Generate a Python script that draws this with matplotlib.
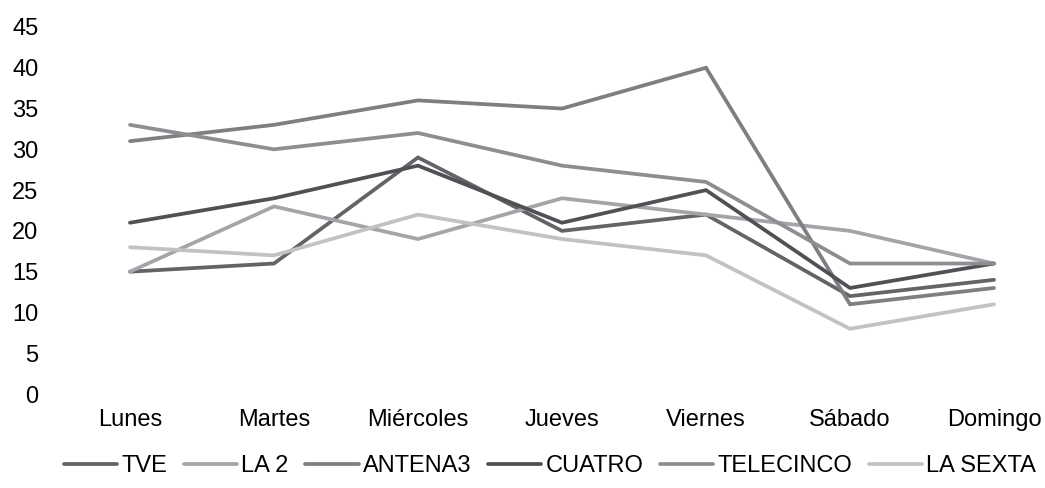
import matplotlib.pyplot as plt

# Datos
dias = ['Lunes', 'Martes', 'Miércoles', 'Jueves', 'Viernes', 'Sábado', 'Domingo']
tve = [15, 16, 29, 20, 22, 12, 14]
la2 = [15, 23, 19, 24, 22, 20, 16]
antena3 = [31, 33, 36, 35, 40, 11, 13]
cuatro = [21, 24, 28, 21, 25, 13, 16]
telecinco = [33, 30, 32, 28, 26, 16, 16]
lasexta = [18, 17, 22, 19, 17, 8, 11]

series = [
    ('TVE', tve, '#636467'),
    ('LA 2', la2, '#a4a5a8'),
    ('ANTENA3', antena3, '#7e7f82'),
    ('CUATRO', cuatro, '#505155'),
    ('TELECINCO', telecinco, '#8d8e91'),
    ('LA SEXTA', lasexta, '#c1c2c4'),
]

plt.rcParams['font.family'] = ['Liberation Sans', 'DejaVu Sans']
plt.rcParams['font.size'] = 17

fig = plt.figure(figsize=(10.45, 4.88), dpi=100)
ax = fig.add_axes([0.0555, 0.1926, 0.9646, 0.7521])

x = range(len(dias))
for nombre, valores, color in series:
    ax.plot(x, valores, color=color, linewidth=2.7, label=nombre,
            solid_joinstyle='miter', solid_capstyle='round')

ax.set_xlim(-0.5, 6.5)
ax.set_ylim(0, 45)
ax.set_yticks(range(0, 46, 5))
ax.set_xticks(list(x))
ax.set_xticklabels(dias)
for s in ax.spines.values():
    s.set_visible(False)
ax.tick_params(axis='both', length=0, colors='#000000')
ax.tick_params(axis='y', pad=14)
ax.tick_params(axis='x', pad=11)

ax.legend(loc='center', bbox_to_anchor=(550 / 1045, 1 - 466 / 488),
          bbox_transform=fig.transFigure,
          ncol=6, frameon=False, handlelength=2.25, handletextpad=0.17,
          columnspacing=0.72, borderaxespad=0, borderpad=0)

fig.savefig('out.png', dpi=100)
plt.close(fig)
